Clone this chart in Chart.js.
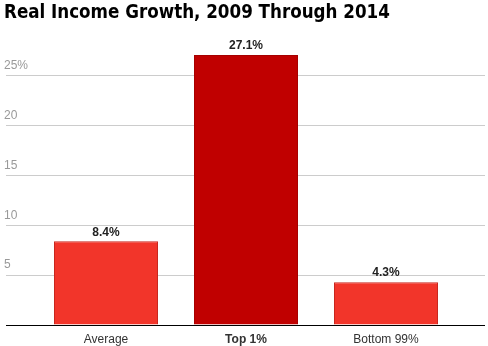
<!DOCTYPE html>
<html>
<head>
<meta charset="utf-8">
<script src="https://cdn.jsdelivr.net/npm/chart.js@4.4.0/dist/chart.umd.min.js"></script>
<style>
  body { margin: 0; background: #fff; }
  canvas { display: block; }
</style>
</head>
<body>
<canvas id="incomeChart" width="488" height="346"></canvas>
<script>
// data
const categories = ["Average", "Top 1%", "Bottom 99%"];
const growth = [8.4, 27.1, 4.3];
const barColors = ["#f2352a", "#c00000", "#f2352a"];
const barBorders = ["#c8281f", "#a60000", "#c8281f"];
const yTicks = [0, 5, 10, 15, 20, 25];

function tickLabel(value) {
    if (!yTicks.includes(value)) return null;
    if (value === 0) return "";
    if (value === 25) return "25%";
    return String(value);
}

function lineColor(ctx) {
    return ctx.tick && ctx.tick.value === 0 ? "#000000" : "#cccccc";
}

// value labels above the bars
const valueLabels = {
    id: "valueLabels",
    afterDatasetsDraw(chart) {
        const ctx = chart.ctx;
        const meta = chart.getDatasetMeta(0);
        ctx.save();
        ctx.font = "bold 12px 'Liberation Sans', Arial, sans-serif";
        ctx.fillStyle = "#222222";
        ctx.textAlign = "center";
        ctx.textBaseline = "middle";
        meta.data.forEach((bar, i) => {
            ctx.fillText(growth[i].toFixed(1) + "%", bar.x, bar.y - 9);
        });
        ctx.restore();
    }
};

const ctx = document.getElementById("incomeChart").getContext("2d");
new Chart(ctx, {
    type: "bar",
    data: {
        labels: categories,
        datasets: [{
            data: growth,
            backgroundColor: barColors,
            borderColor: barBorders,
            borderWidth: 1,
            borderSkipped: "bottom",
            categoryPercentage: 0.743,
            barPercentage: 1
        }]
    },
    options: {
        responsive: false,
        animation: false,
        layout: { padding: { left: 4, right: 0, top: 0, bottom: 0 } },
        plugins: {
            legend: { display: false },
            tooltip: { enabled: false },
            title: {
                display: true,
                text: "Real Income Growth, 2009 Through 2014",
                align: "start",
                color: "#000000",
                font: { family: "'DejaVu Sans Condensed', sans-serif", size: 18.6, weight: "bold", lineHeight: 1.4 },
                padding: { top: 0, bottom: 0 }
            }
        },
        scales: {
            x: {
                afterFit: scale => { scale.height = 21; },
                grid: { display: false, drawTicks: false },
                border: { display: false },
                ticks: {
                    padding: 7,
                    color: "#333333",
                    font: c => ({ family: "'Liberation Sans', Arial, sans-serif", size: 12, weight: c.index === 1 ? "bold" : "normal" })
                }
            },
            y: {
                position: "left",
                min: 0,
                max: 30,
                afterFit: scale => { scale.width = 32; },
                grid: { color: lineColor, tickColor: lineColor, tickLength: 30 },
                border: { display: false },
                ticks: {
                    stepSize: 5,
                    crossAlign: "far",
                    labelOffset: -10,
                    color: "#999999",
                    font: { family: "'Liberation Sans', Arial, sans-serif", size: 12 },
                    callback: tickLabel
                }
            },
            y2: {
                position: "right",
                min: 0,
                max: 30,
                afterFit: scale => { scale.width = 32; },
                grid: { drawOnChartArea: false, tickColor: lineColor, tickLength: 29 },
                border: { display: false },
                ticks: { stepSize: 5, display: false, callback: tickLabel }
            }
        }
    },
    plugins: [valueLabels]
});
</script>
</body>
</html>
